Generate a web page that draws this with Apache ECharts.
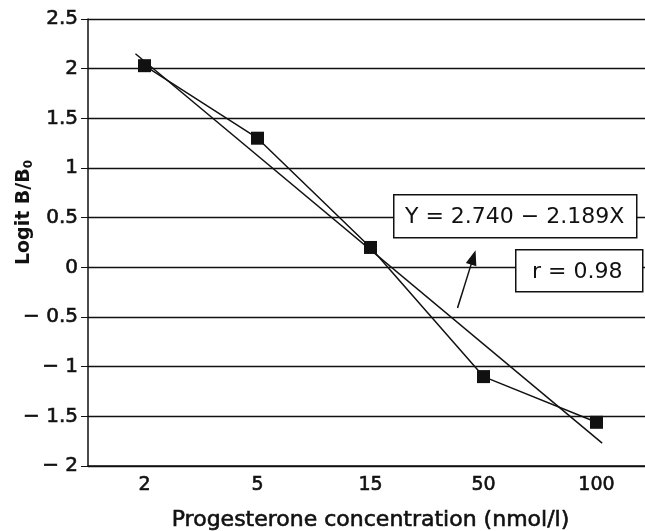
<!DOCTYPE html>
<html>
<head>
<meta charset="utf-8">
<script src="https://cdn.jsdelivr.net/npm/echarts@6/dist/echarts.min.js"></script>
<style>
  html, body { margin: 0; padding: 0; background: #fff; }
  #chart { width: 645px; height: 531px; }
</style>
</head>
<body>
<div id="chart"></div>
<script>
// concentrations (nmol/l) and measured logit B/B0
var concLabels = ['2', '5', '15', '50', '100'];
var logitValues = [2.03, 1.30, 0.20, -1.10, -1.56];
// regression line ends, x in category-index units
var fitX = [-0.08, 4.05];
var fitY = [2.15, -1.77];
// arrow from r box toward the line
var arrowFrom = [2.77, -0.41];
var arrowTo = [2.91, 0.10];

var FONT = 'DejaVu Sans';
var INK = '#111';
// slight outline so the text reads as heavy as the scanned print
var heavy = { textBorderColor: INK, textBorderWidth: 0.6 };

var chart = echarts.init(document.getElementById('chart'));

var option = {
    backgroundColor: '#fff',
    animation: false,
    grid: { left: 88, right: -8, top: 19, bottom: 65, containLabel: false, outerBoundsMode: 'none' },
    xAxis: [
        {
            type: 'category',
            data: concLabels,
            boundaryGap: true,
            name: 'Progesterone concentration (nmol/l)',
            nameLocation: 'middle',
            nameGap: 43,
            nameMoveOverlap: false,
            nameTextStyle: Object.assign({ fontFamily: FONT, fontSize: 22, color: INK }, heavy),
            axisLine: { onZero: false, lineStyle: { color: INK, width: 1.5 } },
            axisTick: { alignWithLabel: true, length: 5, lineStyle: { color: INK } },
            axisLabel: Object.assign({ fontFamily: FONT, fontSize: 19, color: INK, margin: 10 }, heavy),
            splitLine: { show: false }
        },
        {
            type: 'value',
            min: -0.5,
            max: 4.5,
            show: false
        }
    ],
    yAxis: {
        type: 'value',
        min: -2,
        max: 2.5,
        interval: 0.5,
        name: 'Logit B/B{sub|0}',
        nameLocation: 'middle',
        nameGap: 53,
        nameMoveOverlap: false,
        nameRotate: 90,
        nameTextStyle: {
            fontFamily: FONT, fontSize: 19, fontWeight: 'bold', color: INK,
            padding: [0, 0, 0, 60],
            rich: { sub: { fontFamily: FONT, fontSize: 12, fontWeight: 'bold', color: INK, verticalAlign: 'bottom', padding: [10, 0, 0, 0] } }
        },
        axisLine: { show: true, onZero: false, lineStyle: { color: INK, width: 1.5 } },
        axisTick: { show: true, length: 7, lineStyle: { color: INK } },
        axisLabel: Object.assign({
            fontFamily: FONT, fontSize: 20, color: INK, margin: 10,
            formatter: function (v) {
                return v < 0 ? '\u2212 ' + Math.abs(v) : String(v);
            }
        }, heavy),
        splitLine: { lineStyle: { color: INK, width: 1.4 } }
    },
    series: [
        {
            name: 'measured',
            type: 'line',
            xAxisIndex: 0,
            data: logitValues,
            symbol: 'rect',
            symbolSize: 13,
            itemStyle: { color: INK },
            lineStyle: { color: INK, width: 1.5 },
            z: 5
        },
        {
            name: 'fit',
            type: 'line',
            xAxisIndex: 1,
            data: [[fitX[0], fitY[0]], [fitX[1], fitY[1]]],
            symbol: 'none',
            lineStyle: { color: INK, width: 1.5 },
            markLine: {
                silent: true,
                symbol: ['none', 'triangle'],
                symbolSize: [11, 15],
                lineStyle: { color: INK, width: 1.5, type: 'solid' },
                label: { show: false },
                data: [[{ coord: arrowFrom }, { coord: arrowTo }]]
            },
            z: 4
        }
    ],
    graphic: [
        {
            type: 'rect',
            left: 393,
            top: 194,
            z: 100,
            shape: { width: 243, height: 43 },
            style: { fill: '#ffffff', stroke: INK, lineWidth: 1.5 }
        },
        {
            type: 'text',
            left: 405,
            top: 206,
            z: 101,
            style: {
                text: 'Y = 2.740 \u2212 2.189X',
                font: '22px "' + FONT + '"',
                fill: INK
            }
        },
        {
            type: 'rect',
            left: 515,
            top: 249,
            z: 100,
            shape: { width: 127, height: 42 },
            style: { fill: '#ffffff', stroke: INK, lineWidth: 1.5 }
        },
        {
            type: 'text',
            left: 532,
            top: 261,
            z: 101,
            style: {
                text: 'r = 0.98',
                font: '22px "' + FONT + '"',
                fill: INK
            }
        }
    ]
};

chart.setOption(option);
</script>
</body>
</html>
